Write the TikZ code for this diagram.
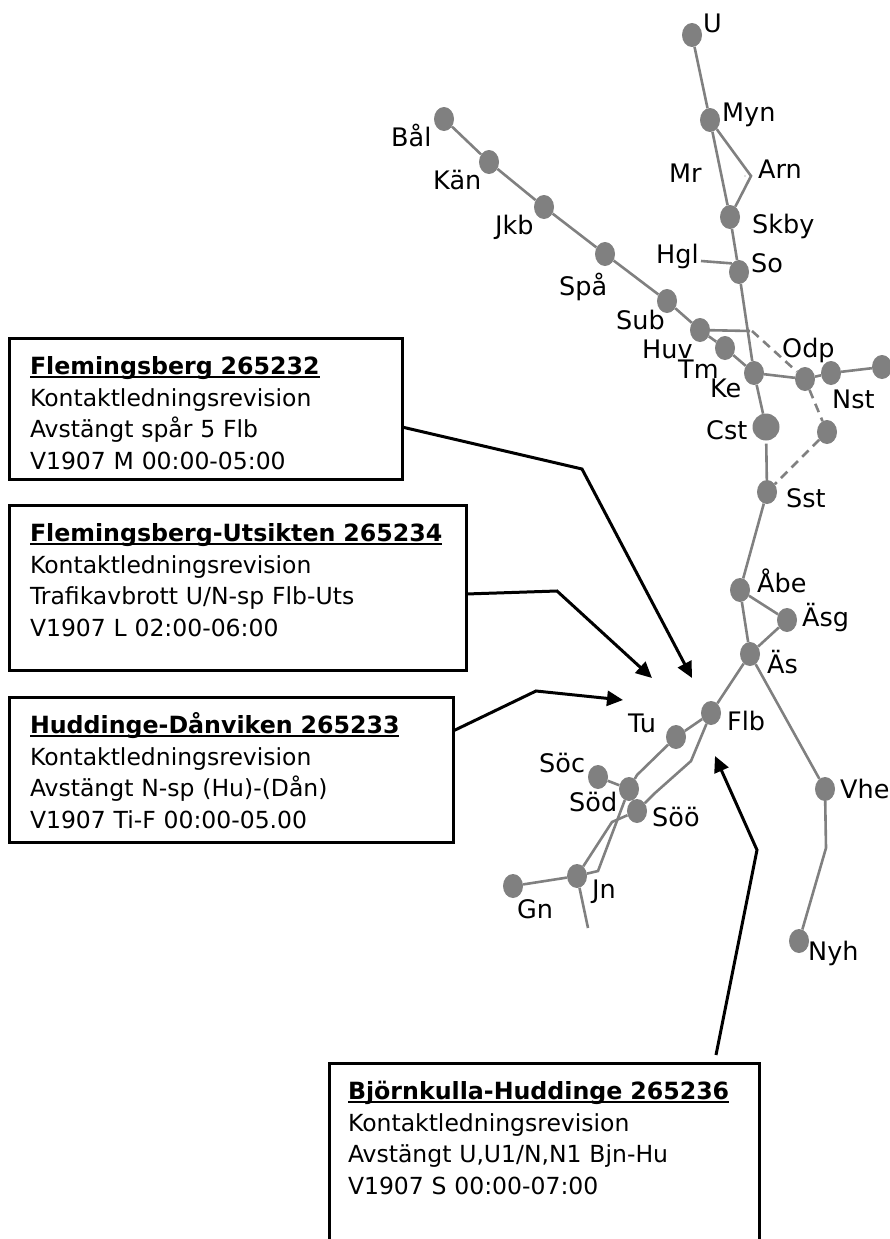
\documentclass[tikz,border=0pt]{standalone}
\usepackage{fontspec}
\setmainfont{DejaVu Sans}
\usetikzlibrary{shapes.geometric,arrows.meta}
\tikzset{
	stn/.style={ellipse,fill=black!50,inner sep=0pt,minimum width=20pt,minimum height=24pt},
	stnbig/.style={circle,fill=black!50,inner sep=0pt,minimum size=27pt},
	lbl/.style={font=\fontsize{25.5}{30}\selectfont,inner sep=0pt,anchor=base west},
	track/.style={draw=black!50,line width=2.6pt},
	trackd/.style={track,dash pattern=on 9pt off 6pt},
	msg/.style={draw,line width=3pt,anchor=north west,outer sep=0pt,inner ysep=0pt,inner xsep=21pt,
		align=left,font=\fontsize{23.5}{31.7}\selectfont,text width=#1},
	pil/.style={line width=3pt,-{Triangle[length=16pt,width=15pt]}}
}
\newcommand{\msgtitle}[1]{\rule{0pt}{36.5pt}{\fontsize{23.7}{31.7}\selectfont\setbox0\hbox{\textbf{#1}}\rlap{\rule[-3.5pt]{\wd0}{2pt}}\box0}}
\newcommand{\msgend}[1]{\rule[-#1pt]{0pt}{0pt}}
\begin{document}
\begin{tikzpicture}[x=1pt,y=-1pt]
		\useasboundingbox (0,0) rectangle (890,1239);
		% stationer
		\node[stn] (U) at (692,35) {};
		\node[stn] (Myn) at (710,120) {};
		\node[stn] (Skby) at (730,217) {};
		\node[stn] (So) at (739,272) {};
		\node[stn] (Ke) at (754,373) {};
		\node[stnbig] (Cst) at (766,427) {};
		\node[stn] (Sst) at (767,492) {};
		\node[stn] (Abe) at (740,590) {};
		\node[stn] (Asg) at (787,620) {};
		\node[stn] (As) at (750,654) {};
		\node[stn] (Flb) at (711,713) {};
		\node[stn] (Tu) at (676,737) {};
		\node[stn] (Soc) at (598,777) {};
		\node[stn] (Sod) at (629,789) {};
		\node[stn] (Soo) at (637,811) {};
		\node[stn] (Jn) at (577,876) {};
		\node[stn] (Gn) at (513,886) {};
		\node[stn] (Vhe) at (825,789) {};
		\node[stn] (Nyh) at (799,941) {};
		\node[stn] (Bal) at (444,119) {};
		\node[stn] (Kan) at (489,162) {};
		\node[stn] (Jkb) at (544,207) {};
		\node[stn] (Spa) at (605,254) {};
		\node[stn] (Sub) at (667,301) {};
		\node[stn] (Huv) at (700,330) {};
		\node[stn] (Tm) at (725,348) {};
		\node[stn] (Odp) at (805,379) {};
		\node[stn] (Nst) at (831,373) {};
		\node[stn] (Nste) at (882,367) {};
		\node[stn] (Ovr) at (827,432) {};
		\coordinate (Arn) at (751,176);
		\coordinate (Arnd) at (745,176);
		\coordinate (Hgl) at (701,261);
		\coordinate (Huve) at (750,331);
		\coordinate (Odpa) at (752,331);
		\coordinate (Tua) at (637,775);
		\coordinate (Flba) at (691,761);
		\coordinate (Flbb) at (655,793);
		\coordinate (Sooa) at (612,822);
		\coordinate (Soda) at (598,871);
		\coordinate (Jne) at (588,928);
		\coordinate (Vhea) at (826,848);
		% spar
		\draw[track] (U) -- (Myn) -- (Skby) -- (So) -- (Ke) -- (Cst);
		\draw[track] (Myn) -- (Arn) -- (Skby);
		\fill[black!50] (Arnd) circle (0.7pt);
		\draw[track] (Hgl) -- (So.north west);
		\draw[track] (Bal) -- (Kan) -- (Jkb) -- (Spa) -- (Sub) -- (Huv) -- (Tm) -- (Ke) -- (Odp) -- (Nst) -- (Nste);
		\draw[track] (Huv) -- (Huve);
		\draw[trackd] (Odpa) -- (Odp);
		\draw[trackd] (Odp) -- (Ovr);
		\draw[trackd] (Ovr) -- (Sst);
		\draw[track,shorten <=3pt] (Cst) -- (Sst);
		\draw[track] (Sst) -- (Abe) -- (As) -- (Flb) -- (Tu) -- (Tua) -- (Sod);
		\draw[track] (Abe) -- (Asg) -- (As) -- (Vhe) -- (Vhea) -- (Nyh);
		\draw[track] (Flb) -- (Flba) -- (Flbb) -- (Soo) -- (Sooa) -- (Jn);
		\draw[track] (Soc) -- (Sod) -- (Soda) -- (Jn) -- (Gn);
		\draw[track] (Jn) -- (Jne);
		% namn
		\node[lbl] (tU) at (703,33) {U};
		\node[lbl] (tMyn) at (722,121) {Myn};
		\node[lbl] (tArn) at (758,178) {Arn};
		\node[lbl] (tMr) at (669,182) {Mr};
		\node[lbl] (tSkby) at (752,233) {Skby};
		\node[lbl] (tHgl) at (656,263) {Hgl};
		\node[lbl] (tSo) at (751,272) {So};
		\node[lbl] (tBal) at (391,146) {Bål};
		\node[lbl] (tKan) at (433,189) {Kän};
		\node[lbl] (tJkb) at (495,234) {Jkb};
		\node[lbl] (tSpa) at (559,295) {Spå};
		\node[lbl] (tSub) at (616,329) {Sub};
		\node[lbl] (tHuv) at (642,358) {Huv};
		\node[lbl] (tTm) at (678,378) {Tm};
		\node[lbl] (tKe) at (710,397) {Ke};
		\node[lbl] (tOdp) at (782,357) {Odp};
		\node[lbl] (tNst) at (832,408) {Nst};
		\node[lbl] (tCst) at (706,439) {Cst};
		\node[lbl] (tSst) at (786,507) {Sst};
		\node[lbl] (tAbe) at (757,592) {Åbe};
		\node[lbl] (tAsg) at (802,626) {Äsg};
		\node[lbl] (tAs) at (767,673) {Äs};
		\node[lbl] (tFlb) at (727,730) {Flb};
		\node[lbl] (tTu) at (628,732) {Tu};
		\node[lbl] (tSoc) at (539,772) {Söc};
		\node[lbl] (tSod) at (569,811) {Söd};
		\node[lbl] (tSoo) at (652,826) {Söö};
		\node[lbl] (tJn) at (592,898) {Jn};
		\node[lbl] (tGn) at (517,918) {Gn};
		\node[lbl] (tVhe) at (840,798) {Vhe};
		\node[lbl] (tNyh) at (808,960) {Nyh};
		% rutor
		\node[msg=351pt] (boxFlb) at (9,338) {\msgtitle{Flemingsberg 265232}\\Kontaktledningsrevision\\Avstängt spår 5 Flb\\V1907 M 00:00-05:00\msgend{10}};
		\node[msg=415pt] (boxUts) at (9,505) {\msgtitle{Flemingsberg-Utsikten 265234}\\Kontaktledningsrevision\\Trafikavbrott U/N-sp Flb-Uts\\V1907 L 02:00-06:00\msgend{34}};
		\node[msg=402pt] (boxDan) at (9,697) {\msgtitle{Huddinge-Dånviken 265233}\\Kontaktledningsrevision\\Avstängt N-sp (Hu)-(Dån)\\V1907 Ti-F 00:00-05.00\msgend{14}};
		\node[msg=392pt,inner xsep=19pt] (boxBjn) at (329,1063) {\msgtitle{Björnkulla-Huddinge 265236}\\Kontaktledningsrevision\\Avstängt U,U1/N,N1 Bjn-Hu\\V1907 S 00:00-07:00\msgend{80}};
		% pilar
		\coordinate (Flbk) at (582,469);
		\coordinate (Utsk) at (557,591);
		\coordinate (Dank) at (536,691);
		\coordinate (Bjnk) at (757,850);
		\coordinate (Flbp) at (692,678);
		\coordinate (Utsp) at (652,678);
		\coordinate (Danp) at (623,700);
		\coordinate (Bjnp) at (715,756);
		\coordinate (Bjna) at (716,1055);
		\draw[pil] (boxFlb.east |- 0,427) -- (Flbk) -- (Flbp);
		\draw[pil] (boxUts.east |- 0,594) -- (Utsk) -- (Utsp);
		\draw[pil] (boxDan.east |- 0,731) -- (Dank) -- (Danp);
		\draw[pil] (Bjna) -- (Bjnk) -- (Bjnp);
	\end{tikzpicture}
\end{document}
